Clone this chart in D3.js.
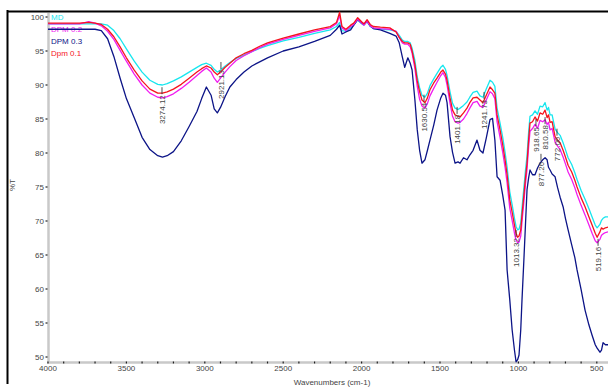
<!DOCTYPE html>
<html lang="en">
<head>
<meta charset="UTF-8">
<title>FTIR spectra</title>
<script src="https://d3js.org/d3.v7.min.js"></script>
<style>
  body { margin: 0; background: #fff; }
  svg text { font-family: "Liberation Sans", Arial, sans-serif; }
  .lbl { font-size: 8px; fill: #444; }
</style>
</head>
<body>
<div id="chart"></div>
<script>
// wavenumber grid (cm-1), shared by all four spectra
const wavenumbers = [
  4000, 3900, 3800, 3740, 3700, 3660, 3620, 3580, 3540, 3500,
  3450, 3400, 3350, 3300, 3270, 3240, 3200, 3150, 3100, 3050,
  3020, 2990, 2960, 2940, 2920, 2900, 2870, 2840, 2800, 2750,
  2700, 2650, 2600, 2500, 2400, 2300, 2200, 2160, 2140, 2125,
  2100, 2070, 2050, 2025, 2000, 1985, 1965, 1945, 1925, 1880,
  1820, 1780, 1760, 1740, 1725, 1705, 1690, 1678, 1660, 1645,
  1630, 1615, 1596, 1580, 1564, 1540, 1519, 1495, 1481, 1465,
  1455, 1436, 1420, 1404, 1385, 1372, 1350, 1328, 1310, 1289,
  1264, 1245, 1226, 1205, 1181, 1165, 1150, 1136, 1117, 1100,
  1085, 1072, 1055, 1040, 1025, 1015, 1005, 996, 985, 977,
  965, 955, 945, 935, 926, 910, 894, 878, 862, 845,
  830, 817, 808, 798, 785, 766, 750, 734, 715, 700,
  683, 660, 640, 626, 600, 575, 550, 530, 510, 498,
  480, 470, 460, 445, 428
];

// %T values
const md = [
  99.0, 99.0, 99.0, 99.0, 99.0, 99.0, 98.8, 98.0, 96.8, 95.3,
  93.5, 91.9, 90.7, 90.1, 90.0, 90.2, 90.6, 91.2, 91.9, 92.6,
  93.0, 93.2, 92.9, 92.3, 91.9, 92.2, 92.8, 93.3, 93.9, 94.4,
  94.9, 95.4, 95.8, 96.5, 97.0, 97.6, 98.1, 98.6, 99.2, 98.0,
  97.9, 98.4, 98.8, 99.6, 99.0, 98.8, 99.3, 98.6, 98.3, 98.2,
  98.1, 97.9, 97.3, 96.6, 96.4, 96.4, 96.2, 95.4, 93.6, 91.2,
  89.6, 88.5, 88.2, 88.8, 89.9, 90.9, 91.7, 92.6, 92.9, 92.3,
  91.4, 89.0, 87.3, 86.6, 86.4, 86.6, 87.0, 87.5, 88.2, 88.9,
  89.1, 88.4, 88.2, 89.4, 90.7, 90.4, 89.8, 86.6, 84.4, 82.3,
  80.1, 77.9, 74.3, 72.4, 70.4, 69.2, 68.7, 68.8, 69.7, 71.9,
  74.9, 77.4, 79.6, 83.0, 85.4, 85.6, 86.2, 85.7, 86.9, 86.8,
  87.4, 86.3, 86.7, 85.6, 85.6, 83.5, 83.0, 82.6, 81.5, 80.5,
  79.3, 78.3, 77.1, 76.1, 74.5, 73.2, 71.8, 70.6, 69.4, 69.0,
  69.5, 70.1, 70.4, 70.6, 70.6
];
const dpm02 = [
  99.0, 99.0, 99.0, 99.3, 99.1, 98.7, 97.9, 96.7, 95.1, 93.5,
  91.6, 90.0, 88.8, 88.2, 88.1, 88.3, 88.7, 89.5, 90.4, 91.4,
  92.0, 92.5, 91.9, 91.0, 90.4, 91.0, 91.9, 92.7, 93.6, 94.3,
  94.9, 95.5, 96.0, 96.7, 97.3, 97.9, 98.4, 99.0, 100.2, 98.4,
  98.0, 98.6, 98.9, 99.7, 99.1, 98.8, 99.4, 98.7, 98.4, 98.3,
  98.2, 97.9, 97.0, 96.2, 96.0, 96.0, 95.6, 94.7, 92.4, 89.8,
  87.9, 86.9, 86.6, 87.3, 88.4, 89.5, 90.4, 91.4, 91.8, 91.1,
  90.0, 87.3, 85.4, 84.6, 84.4, 84.5, 85.0, 85.8, 86.6, 87.4,
  87.6, 86.9, 86.7, 87.8, 89.0, 88.7, 88.0, 84.6, 82.3, 80.1,
  77.9, 75.6, 71.9, 70.1, 68.2, 67.2, 66.8, 66.9, 67.8, 69.9,
  72.8, 75.4, 77.6, 80.8, 83.2, 83.6, 84.2, 83.6, 84.8, 84.6,
  84.9, 84.2, 84.5, 83.4, 83.6, 81.6, 81.0, 80.5, 79.4, 78.4,
  77.2, 76.1, 74.9, 73.9, 72.3, 70.9, 69.4, 68.2, 67.1, 66.8,
  67.3, 67.9, 68.1, 68.3, 68.4
];
const dpm03 = [
  98.2, 98.2, 98.2, 98.2, 98.2, 98.0, 96.8, 94.2, 91.0, 88.0,
  85.2, 82.3, 80.5, 79.6, 79.4, 79.6, 80.2, 81.8, 83.9, 86.1,
  88.0, 89.7, 88.5, 86.5, 85.9, 86.7, 88.3, 89.7, 90.8, 91.9,
  92.8, 93.4, 94.0, 95.0, 95.6, 96.4, 97.3, 98.2, 98.8, 97.5,
  97.8, 98.1, 98.8, 99.6, 99.1, 98.9, 99.4, 98.7, 98.3, 98.1,
  97.6, 97.2, 96.2, 94.1, 92.6, 94.0, 93.2, 92.2, 87.8, 83.4,
  80.4, 78.5, 79.0, 80.4, 81.9, 84.1, 86.3, 88.1, 88.8, 88.5,
  87.4, 82.4, 80.1, 78.5, 78.7, 78.5, 79.3, 79.0, 79.7, 80.4,
  81.9, 80.4, 80.0, 82.2, 84.9, 85.1, 81.9, 76.5, 76.0, 73.8,
  71.6, 62.8, 58.4, 54.0, 51.0, 49.3, 49.6, 50.3, 54.0, 58.4,
  64.3, 69.4, 74.6, 76.3, 77.5, 76.8, 76.8, 77.8, 78.5, 79.0,
  79.3, 79.0, 77.9, 77.5, 76.9, 76.5, 74.9, 73.5, 72.1, 70.4,
  68.7, 66.5, 64.6, 62.8, 59.9, 56.9, 54.7, 53.2, 51.8, 51.3,
  50.7, 51.0, 52.1, 51.8, 51.8
];
const dpm01 = [
  99.1, 99.1, 99.1, 99.2, 99.1, 98.9, 98.2, 97.1, 95.6, 94.0,
  92.2, 90.6, 89.4, 88.8, 88.8, 89.0, 89.4, 90.1, 91.0, 91.9,
  92.4, 92.8, 92.5, 91.9, 91.5, 91.9, 92.6, 93.2, 94.0, 94.6,
  95.1, 95.7, 96.2, 96.9, 97.5, 98.1, 98.6, 99.2, 100.7, 98.6,
  98.2, 98.8, 99.1, 99.9, 99.3, 99.0, 99.6, 98.9, 98.6, 98.5,
  98.4, 97.8, 97.0, 96.4, 96.2, 96.2, 96.0, 95.0, 93.0, 90.6,
  89.0, 87.8, 87.4, 88.1, 89.3, 90.3, 91.0, 91.9, 92.2, 91.6,
  90.7, 88.1, 86.3, 85.6, 85.4, 85.3, 85.9, 86.6, 87.4, 88.1,
  88.2, 87.8, 87.4, 88.5, 89.7, 89.3, 88.8, 85.6, 83.4, 81.2,
  79.0, 76.8, 73.1, 71.3, 69.4, 68.2, 67.6, 67.8, 68.7, 70.9,
  73.8, 76.3, 78.5, 81.9, 84.4, 84.6, 85.3, 84.7, 85.9, 85.7,
  86.3, 85.2, 85.6, 84.5, 84.6, 82.4, 81.9, 81.5, 80.4, 79.4,
  78.2, 77.2, 76.0, 75.0, 73.4, 72.1, 70.6, 69.4, 68.2, 67.6,
  68.4, 69.0, 68.8, 69.0, 69.1
];

const seriesNames = ["MD", "DPM 0.2", "DPM 0.3", "Dpm 0.1"];
const xTicks = [4000, 3500, 3000, 2500, 2000, 1500, 1000, 500];
const yTicks = [50, 55, 60, 65, 70, 75, 80, 85, 90, 95, 100];

// peak annotations: text, wavenumber of the marker, %T where the label starts
const peakLabels = ["3274.12", "2921.13", "1630.54", "1401.18", "1241.73", "1013.32",
                    "918.65", "877.26", "810.58", "772.06", "519.16"];
const peakAt  = [3273, 2897, 1602, 1391, 1219, 1015, 888, 856, 830, 754, 492];
const peakTop = [88.5, 92.2, 87.4, 85.6, 87.8, 67.5, 83.8, 78.7, 84.1, 82.4, 66.2];

const width = 608, height = 387;
const colors = ["#18e6ee", "#f01ef0", "#0c1487", "#f5141e"];

const svg = d3.select("#chart").append("svg")
  .attr("width", width)
  .attr("height", height);

const x = d3.scaleLinear().domain([4000, 500]).range([48, 596.8]);
const y = d3.scaleLinear().domain([50, 100]).range([357, 17]);

// outer frame (only the left and top edges fall inside the crop)
svg.append("line").attr("x1", 7.5).attr("x2", 7.5).attr("y1", 10).attr("y2", 384)
  .attr("stroke", "#000").attr("stroke-width", 2);
svg.append("line").attr("x1", 7).attr("x2", width).attr("y1", 11.5).attr("y2", 11.5)
  .attr("stroke", "#000").attr("stroke-width", 2);

// axis lines
svg.append("line").attr("x1", 48.5).attr("x2", 48.5).attr("y1", 13).attr("y2", 363)
  .attr("stroke", "#c9c9c9").attr("stroke-width", 2.5);
svg.append("line").attr("x1", 47).attr("x2", width).attr("y1", 362.5).attr("y2", 362.5)
  .attr("stroke", "#c9c9c9").attr("stroke-width", 2.5);

// y ticks + labels
svg.selectAll(".ytick").data(yTicks).join("line")
  .attr("x1", 45.5).attr("x2", 47.5)
  .attr("y1", d => y(d)).attr("y2", d => y(d))
  .attr("stroke", "#222").attr("stroke-width", 1.2);
svg.selectAll(".ylab").data(yTicks).join("text")
  .attr("class", "lbl")
  .attr("x", 44).attr("y", d => y(d) + 3)
  .attr("text-anchor", "end")
  .text(d => d);

// x minor dots every 100 cm-1 and labels
svg.selectAll(".xtick").data(d3.range(4000, 420, -100)).join("line")
  .attr("x1", d => x(d)).attr("x2", d => x(d))
  .attr("y1", 361.5).attr("y2", 363.5)
  .attr("stroke", "#222").attr("stroke-width", 1.2);
svg.selectAll(".xlab").data(xTicks).join("text")
  .attr("class", "lbl")
  .attr("x", d => x(d)).attr("y", 371)
  .attr("text-anchor", "middle")
  .text(d => d);

svg.append("text").attr("class", "lbl")
  .attr("x", 332).attr("y", 385)
  .attr("text-anchor", "middle")
  .text("Wavenumbers (cm-1)");
svg.append("text").attr("class", "lbl")
  .attr("transform", "translate(15,185) rotate(-90)")
  .attr("text-anchor", "middle")
  .text("%T");

// legend (drawn under the traces)
svg.selectAll(".leg").data(seriesNames).join("text")
  .attr("x", 51).attr("y", (d, i) => 19.5 + i * 12)
  .attr("font-size", "8px")
  .attr("fill", (d, i) => colors[i])
  .text(d => d);

// traces
const line = d3.line()
  .x(d => x(d[0]))
  .y(d => y(d[1]));

const series = [md, dpm03, dpm02, dpm01];
const seriesColor = [colors[0], colors[2], colors[1], colors[3]];
series.forEach((vals, i) => {
  svg.append("path")
    .datum(wavenumbers.map((w, j) => [w, vals[j]]))
    .attr("fill", "none")
    .attr("stroke", seriesColor[i])
    .attr("stroke-width", 1.3)
    .attr("stroke-linejoin", "round")
    .attr("d", line);
});

// peak markers
peakLabels.forEach((t, i) => {
  const px = x(peakAt[i]);
  const top = y(peakTop[i]);
  svg.append("line")
    .attr("x1", px).attr("x2", px)
    .attr("y1", top - 8).attr("y2", top - 1)
    .attr("stroke", "#222").attr("stroke-width", 0.8);
  svg.append("text").attr("class", "lbl")
    .attr("transform", `translate(${px + 3},${top}) rotate(-90)`)
    .attr("text-anchor", "end")
    .text(t);
});
</script>
</body>
</html>
